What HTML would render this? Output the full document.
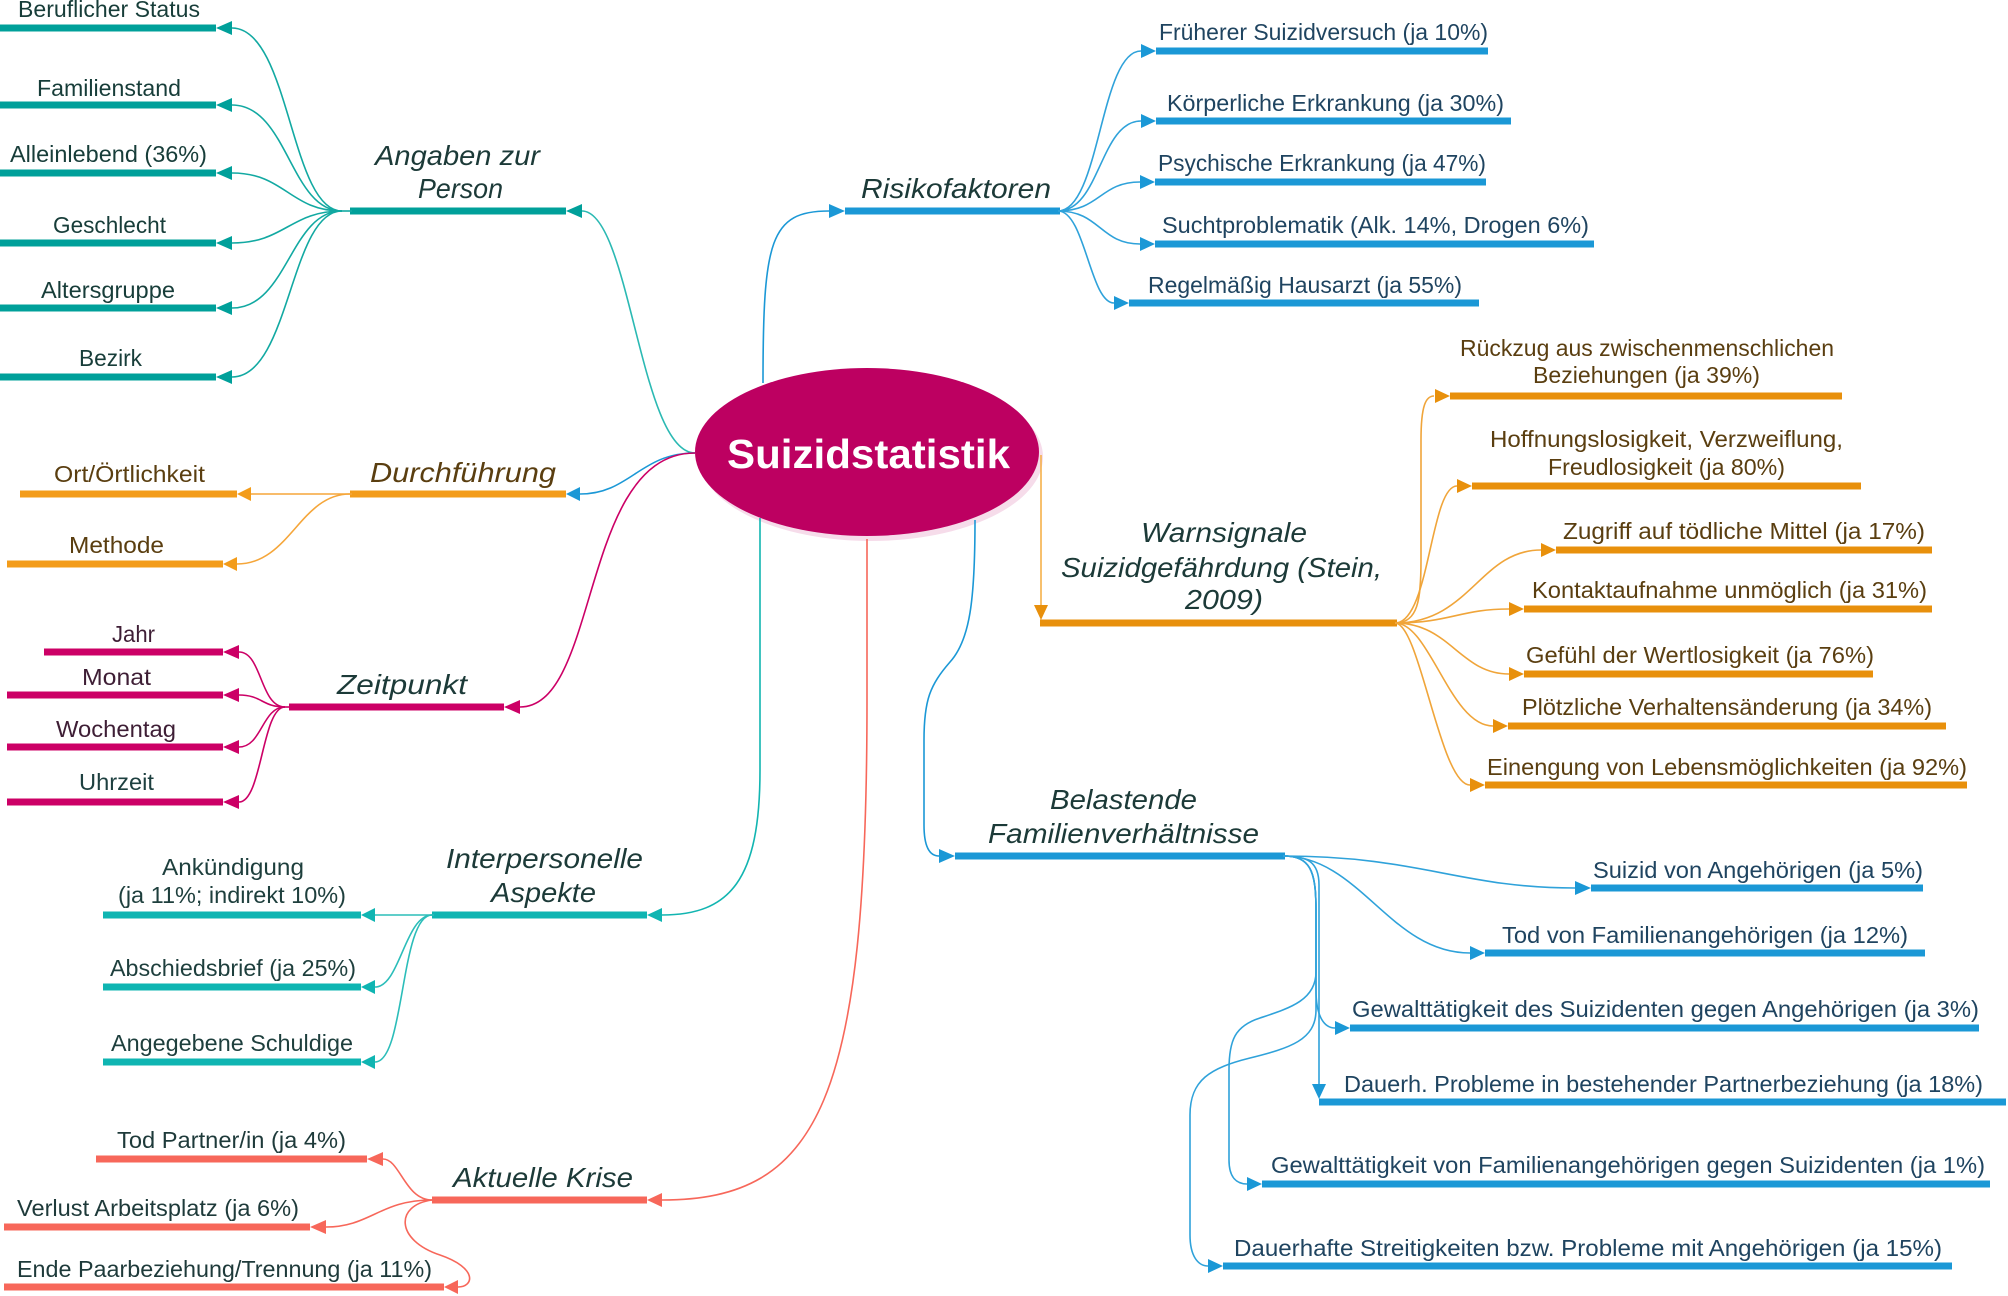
<!DOCTYPE html>
<html><head><meta charset="utf-8"><style>
html,body{margin:0;padding:0;background:#fff;}
svg{display:block;}
text{font-family:"Liberation Sans",sans-serif;}
.c{font-size:23px;}
.m{font-size:28px;font-style:italic;}
.ln{fill:none;stroke-width:1.6;}
</style></head><body>
<svg width="2008" height="1296" viewBox="0 0 2008 1296" xmlns="http://www.w3.org/2000/svg">
<rect width="2008" height="1296" fill="#fff"/>

<!-- ===== Central ellipse ===== -->
<ellipse cx="871" cy="457" rx="172" ry="84" fill="#F6DCEA"/>
<ellipse cx="867" cy="452" rx="172" ry="84" fill="#BD0061"/>

<!-- ===== Center connectors ===== -->
<path class="ln" stroke="#2BB9B3" d="M695,453 C640,453 630,211 582,211"/>
<path class="ln" stroke="#1B98D6" d="M695,453 C640,453 630,494 580,494"/>
<path class="ln" stroke="#CC0066" d="M695,453 C580,453 600,707 520,707"/>
<path class="ln" stroke="#1B98D6" d="M763,383 C763,240 770,211 829,211"/>
<path class="ln" stroke="#12B5B1" d="M760,518 L760,770 C760,880 730,915 662,915"/>
<path class="ln" stroke="#F7675A" d="M867,539 L867,700 C867,1100 820,1200 662,1200"/>
<path class="ln" stroke="#1B98D6" d="M975,520 C975,600 970,640 950,662 C930,685 924,700 924,740 L924,825 C924,848 930,856 939,856"/>
<path class="ln" stroke="#F5B04A" d="M1041,455 L1041,606"/>

<text x="727" y="468" textLength="283" lengthAdjust="spacingAndGlyphs" style="font-size:41px;font-weight:bold" fill="#fff">Suizidstatistik</text>

<!-- ===== Angaben zur Person ===== -->
<g stroke="#00A09A">
<line x1="350" y1="211" x2="566" y2="211" stroke-width="7"/>
<line x1="0" y1="28" x2="216" y2="28" stroke-width="7"/>
<line x1="0" y1="105" x2="216" y2="105" stroke-width="7"/>
<line x1="0" y1="173" x2="216" y2="173" stroke-width="7"/>
<line x1="0" y1="243" x2="216" y2="243" stroke-width="7"/>
<line x1="0" y1="308" x2="216" y2="308" stroke-width="7"/>
<line x1="0" y1="377" x2="216" y2="377" stroke-width="7"/>
</g>
<g class="ln" stroke="#12A9A2">
<path d="M352,211 L340,211"/>
<path d="M342,211 C290,211 290,28 232,28"/>
<path d="M342,211 C290,211 288,105 232,105"/>
<path d="M342,211 C290,211 285,173 232,173"/>
<path d="M342,211 C290,211 285,243 232,243"/>
<path d="M342,211 C290,211 288,308 232,308"/>
<path d="M342,211 C290,211 290,377 232,377"/>
</g>
<g fill="#00A09A">
<polygon points="566,211 582,204 582,218"/>
<polygon points="216,28 232,21 232,35"/>
<polygon points="216,105 232,98 232,112"/>
<polygon points="216,173 232,166 232,180"/>
<polygon points="216,243 232,236 232,250"/>
<polygon points="216,308 232,301 232,315"/>
<polygon points="216,377 232,370 232,384"/>
</g>
<g class="c" fill="#173D39">
<text x="18" y="17" textLength="182" lengthAdjust="spacingAndGlyphs">Beruflicher Status</text>
<text x="37" y="96" textLength="144" lengthAdjust="spacingAndGlyphs">Familienstand</text>
<text x="10" y="162" textLength="197" lengthAdjust="spacingAndGlyphs">Alleinlebend (36%)</text>
<text x="53" y="233" textLength="113" lengthAdjust="spacingAndGlyphs">Geschlecht</text>
<text x="41" y="298" textLength="134" lengthAdjust="spacingAndGlyphs">Altersgruppe</text>
<text x="79" y="366" textLength="63" lengthAdjust="spacingAndGlyphs">Bezirk</text>
</g>
<g class="m" fill="#1C3A38">
<text x="375" y="165" textLength="165" lengthAdjust="spacingAndGlyphs">Angaben zur</text>
<text x="418" y="198" textLength="85" lengthAdjust="spacingAndGlyphs">Person</text>
</g>

<!-- ===== Durchführung ===== -->
<g stroke="#F39C1A" stroke-width="7">
<line x1="350" y1="494" x2="566" y2="494"/>
<line x1="20" y1="494" x2="237" y2="494"/>
<line x1="7" y1="564" x2="223" y2="564"/>
</g>
<g class="ln" stroke="#F5A63A">
<path d="M352,494 L251,494"/>
<path d="M350,494 C300,494 290,564 237,564"/>
</g>
<polygon points="566,494 580,487 580,501" fill="#1B98D6"/>
<g fill="#F39C1A">
<polygon points="237,494 251,487 251,501"/>
<polygon points="223,564 237,557 237,571"/>
</g>
<text class="m" x="370" y="482" textLength="186" lengthAdjust="spacingAndGlyphs" fill="#5A3E10">Durchführung</text>
<g class="c" fill="#5A3E10">
<text x="54" y="482" textLength="151" lengthAdjust="spacingAndGlyphs">Ort/Örtlichkeit</text>
<text x="69" y="553" textLength="95" lengthAdjust="spacingAndGlyphs">Methode</text>
</g>

<!-- ===== Zeitpunkt ===== -->
<g stroke="#CC0066" stroke-width="7">
<line x1="289" y1="707" x2="504" y2="707"/>
<line x1="44" y1="652" x2="223" y2="652"/>
<line x1="7" y1="695" x2="223" y2="695"/>
<line x1="7" y1="747" x2="223" y2="747"/>
<line x1="7" y1="802" x2="223" y2="802"/>
</g>
<g class="ln" stroke="#CC0066">
<path d="M290,707 L283,707"/>
<path d="M285,707 C260,707 262,652 239,652"/>
<path d="M285,707 C262,707 262,695 239,695"/>
<path d="M285,707 C262,707 262,747 239,747"/>
<path d="M285,707 C262,707 262,802 239,802"/>
</g>
<g fill="#CC0066">
<polygon points="504,707 520,700 520,714"/>
<polygon points="223,652 239,645 239,659"/>
<polygon points="223,695 239,688 239,702"/>
<polygon points="223,747 239,740 239,754"/>
<polygon points="223,802 239,795 239,809"/>
</g>
<text class="m" x="337" y="694" textLength="130" lengthAdjust="spacingAndGlyphs" fill="#1C3A38">Zeitpunkt</text>
<g class="c" fill="#3E1E35">
<text x="112" y="642" textLength="43" lengthAdjust="spacingAndGlyphs">Jahr</text>
<text x="82" y="685" textLength="69" lengthAdjust="spacingAndGlyphs">Monat</text>
<text x="56" y="737" textLength="120" lengthAdjust="spacingAndGlyphs">Wochentag</text>
<text x="79" y="790" textLength="75" lengthAdjust="spacingAndGlyphs" fill="#1E4040">Uhrzeit</text>
</g>

<!-- ===== Interpersonelle Aspekte ===== -->
<g stroke="#0FB5B2" stroke-width="7">
<line x1="432" y1="915" x2="647" y2="915"/>
<line x1="103" y1="915" x2="361" y2="915"/>
<line x1="103" y1="987" x2="361" y2="987"/>
<line x1="103" y1="1062" x2="361" y2="1062"/>
</g>
<g class="ln" stroke="#2BBDB9">
<path d="M434,915 L375,915"/>
<path d="M432,915 C405,915 400,987 375,987"/>
<path d="M432,915 C400,915 405,1062 375,1062"/>
</g>
<g fill="#0FB5B2">
<polygon points="647,915 662,908 662,922"/>
<polygon points="361,915 375,908 375,922"/>
<polygon points="361,987 375,980 375,994"/>
<polygon points="361,1062 375,1055 375,1069"/>
</g>
<g class="m" fill="#1C3A38">
<text x="446" y="868" textLength="197" lengthAdjust="spacingAndGlyphs">Interpersonelle</text>
<text x="491" y="902" textLength="105" lengthAdjust="spacingAndGlyphs">Aspekte</text>
</g>
<g class="c" fill="#1E3F3D">
<text x="162" y="875" textLength="142" lengthAdjust="spacingAndGlyphs">Ankündigung</text>
<text x="118" y="903" textLength="228" lengthAdjust="spacingAndGlyphs">(ja 11%; indirekt 10%)</text>
<text x="110" y="976" textLength="246" lengthAdjust="spacingAndGlyphs">Abschiedsbrief (ja 25%)</text>
<text x="111" y="1051" textLength="242" lengthAdjust="spacingAndGlyphs">Angegebene Schuldige</text>
</g>

<!-- ===== Aktuelle Krise ===== -->
<g stroke="#F7675A" stroke-width="7">
<line x1="432" y1="1200" x2="647" y2="1200"/>
<line x1="96" y1="1159" x2="367" y2="1159"/>
<line x1="4" y1="1227" x2="310" y2="1227"/>
<line x1="4" y1="1287" x2="444" y2="1287"/>
</g>
<g class="ln" stroke="#F7675A">
<path d="M432,1200 C405,1200 400,1159 383,1159"/>
<path d="M432,1200 C380,1200 370,1227 326,1227"/>
<path d="M432,1200 C395,1205 395,1240 440,1255 C478,1268 474,1287 458,1287"/>
</g>
<g fill="#F7675A">
<polygon points="647,1200 662,1193 662,1207"/>
<polygon points="367,1159 383,1152 383,1166"/>
<polygon points="310,1227 326,1220 326,1234"/>
<polygon points="444,1287 458,1280 458,1294"/>
</g>
<text class="m" x="453" y="1187" textLength="180" lengthAdjust="spacingAndGlyphs" fill="#1C3A38">Aktuelle Krise</text>
<g class="c" fill="#1E3A3A">
<text x="117" y="1148" textLength="229" lengthAdjust="spacingAndGlyphs">Tod Partner/in (ja 4%)</text>
<text x="17" y="1216" textLength="282" lengthAdjust="spacingAndGlyphs">Verlust Arbeitsplatz (ja 6%)</text>
<text x="17" y="1277" textLength="415" lengthAdjust="spacingAndGlyphs">Ende Paarbeziehung/Trennung (ja 11%)</text>
</g>

<!-- ===== Risikofaktoren ===== -->
<g stroke="#1B98D6" stroke-width="7">
<line x1="845" y1="211" x2="1060" y2="211"/>
<line x1="1156" y1="51" x2="1488" y2="51"/>
<line x1="1156" y1="121" x2="1511" y2="121"/>
<line x1="1155" y1="182" x2="1486" y2="182"/>
<line x1="1155" y1="244" x2="1594" y2="244"/>
<line x1="1129" y1="303" x2="1479" y2="303"/>
</g>
<g class="ln" stroke="#2FA2DA">
<path d="M1058,211 C1100,211 1100,51 1141,51"/>
<path d="M1058,211 C1100,211 1100,121 1141,121"/>
<path d="M1058,211 C1100,211 1100,182 1140,182"/>
<path d="M1058,211 C1100,211 1100,244 1140,244"/>
<path d="M1058,211 C1085,211 1090,303 1114,303"/>
</g>
<g fill="#1B98D6">
<polygon points="845,211 829,204 829,218"/>
<polygon points="1156,51 1141,44 1141,58"/>
<polygon points="1156,121 1141,114 1141,128"/>
<polygon points="1155,182 1140,175 1140,189"/>
<polygon points="1155,244 1140,237 1140,251"/>
<polygon points="1129,303 1114,296 1114,310"/>
</g>
<text class="m" x="861" y="198" textLength="190" lengthAdjust="spacingAndGlyphs" fill="#1C3A38">Risikofaktoren</text>
<g class="c" fill="#1F4460">
<text x="1159" y="40" textLength="329" lengthAdjust="spacingAndGlyphs">Früherer Suizidversuch (ja 10%)</text>
<text x="1167" y="111" textLength="337" lengthAdjust="spacingAndGlyphs">Körperliche Erkrankung (ja 30%)</text>
<text x="1158" y="171" textLength="328" lengthAdjust="spacingAndGlyphs">Psychische Erkrankung (ja 47%)</text>
<text x="1162" y="233" textLength="427" lengthAdjust="spacingAndGlyphs">Suchtproblematik (Alk. 14%, Drogen 6%)</text>
<text x="1148" y="293" textLength="314" lengthAdjust="spacingAndGlyphs">Regelmäßig Hausarzt (ja 55%)</text>
</g>

<!-- ===== Warnsignale ===== -->
<g stroke="#E8900C" stroke-width="7">
<line x1="1040" y1="623" x2="1397" y2="623"/>
<line x1="1450" y1="396" x2="1842" y2="396"/>
<line x1="1472" y1="486" x2="1861" y2="486"/>
<line x1="1556" y1="550" x2="1932" y2="550"/>
<line x1="1524" y1="609" x2="1932" y2="609"/>
<line x1="1524" y1="674" x2="1873" y2="674"/>
<line x1="1508" y1="726" x2="1946" y2="726"/>
<line x1="1485" y1="785" x2="1967" y2="785"/>
</g>
<g class="ln" stroke="#F0A53A">
<path d="M1395,623 C1418,623 1421,600 1421,560 L1421,440 C1421,405 1426,396 1434,396"/>
<path d="M1395,623 C1430,623 1430,486 1457,486"/>
<path d="M1395,623 C1470,623 1480,550 1541,550"/>
<path d="M1395,623 C1450,623 1460,609 1509,609"/>
<path d="M1395,623 C1450,623 1460,674 1509,674"/>
<path d="M1395,623 C1430,623 1450,726 1493,726"/>
<path d="M1395,623 C1420,623 1440,785 1470,785"/>
</g>
<g fill="#E8900C">
<polygon points="1041,620 1034,605 1048,605"/>
<polygon points="1450,396 1435,389 1435,403"/>
<polygon points="1472,486 1457,479 1457,493"/>
<polygon points="1556,550 1541,543 1541,557"/>
<polygon points="1524,609 1509,602 1509,616"/>
<polygon points="1524,674 1509,667 1509,681"/>
<polygon points="1508,726 1493,719 1493,733"/>
<polygon points="1485,785 1470,778 1470,792"/>
</g>
<g class="m" fill="#1C3A38">
<text x="1141" y="542" textLength="166" lengthAdjust="spacingAndGlyphs">Warnsignale</text>
<text x="1061" y="577" textLength="321" lengthAdjust="spacingAndGlyphs">Suizidgefährdung (Stein,</text>
<text x="1185" y="609" textLength="78" lengthAdjust="spacingAndGlyphs">2009)</text>
</g>
<g class="c" fill="#5A3E10">
<text x="1460" y="356" textLength="374" lengthAdjust="spacingAndGlyphs">Rückzug aus zwischenmenschlichen</text>
<text x="1533" y="383" textLength="227" lengthAdjust="spacingAndGlyphs">Beziehungen (ja 39%)</text>
<text x="1490" y="447" textLength="353" lengthAdjust="spacingAndGlyphs">Hoffnungslosigkeit, Verzweiflung,</text>
<text x="1548" y="475" textLength="237" lengthAdjust="spacingAndGlyphs">Freudlosigkeit (ja 80%)</text>
<text x="1563" y="539" textLength="362" lengthAdjust="spacingAndGlyphs">Zugriff auf tödliche Mittel (ja 17%)</text>
<text x="1532" y="598" textLength="395" lengthAdjust="spacingAndGlyphs">Kontaktaufnahme unmöglich (ja 31%)</text>
<text x="1526" y="663" textLength="348" lengthAdjust="spacingAndGlyphs">Gefühl der Wertlosigkeit (ja 76%)</text>
<text x="1522" y="715" textLength="410" lengthAdjust="spacingAndGlyphs">Plötzliche Verhaltensänderung (ja 34%)</text>
<text x="1487" y="775" textLength="480" lengthAdjust="spacingAndGlyphs">Einengung von Lebensmöglichkeiten (ja 92%)</text>
</g>

<!-- ===== Belastende Familienverhältnisse ===== -->
<g stroke="#1B98D6" stroke-width="7">
<line x1="955" y1="856" x2="1285" y2="856"/>
<line x1="1591" y1="888" x2="1923" y2="888"/>
<line x1="1485" y1="953" x2="1925" y2="953"/>
<line x1="1350" y1="1028" x2="1979" y2="1028"/>
<line x1="1319" y1="1102" x2="2006" y2="1102"/>
<line x1="1262" y1="1184" x2="1990" y2="1184"/>
<line x1="1223" y1="1266" x2="1952" y2="1266"/>
</g>
<g class="ln" stroke="#2FA2DA">
<path d="M1283,856 C1420,856 1460,888 1575,888"/>
<path d="M1283,856 C1360,856 1390,953 1470,953"/>
<path d="M1283,856 C1310,856 1316,870 1316,910 L1316,990 C1316,1018 1325,1028 1335,1028"/>
<path d="M1283,856 C1308,856 1319,862 1319,885 L1319,1084"/>
<path d="M1283,856 C1310,856 1316,870 1316,910 L1316,972 C1316,1000 1290,1008 1260,1018 C1235,1026 1229,1040 1229,1070 L1229,1160 C1229,1178 1237,1184 1247,1184"/>
<path d="M1283,856 C1310,856 1316,870 1316,910 L1316,1010 C1316,1040 1290,1048 1250,1058 C1210,1068 1190,1080 1190,1115 L1190,1235 C1190,1256 1198,1266 1208,1266"/>
</g>
<g fill="#1B98D6">
<polygon points="955,856 939,849 939,863"/>
<polygon points="1591,888 1575,881 1575,895"/>
<polygon points="1485,953 1470,946 1470,960"/>
<polygon points="1350,1028 1335,1021 1335,1035"/>
<polygon points="1319,1099 1312,1084 1326,1084"/>
<polygon points="1262,1184 1247,1177 1247,1191"/>
<polygon points="1223,1266 1208,1259 1208,1273"/>
</g>
<g class="m" fill="#1C3A38">
<text x="1050" y="809" textLength="147" lengthAdjust="spacingAndGlyphs">Belastende</text>
<text x="988" y="843" textLength="271" lengthAdjust="spacingAndGlyphs">Familienverhältnisse</text>
</g>
<g class="c" fill="#1F4460">
<text x="1593" y="878" textLength="330" lengthAdjust="spacingAndGlyphs">Suizid von Angehörigen (ja 5%)</text>
<text x="1502" y="943" textLength="406" lengthAdjust="spacingAndGlyphs">Tod von Familienangehörigen (ja 12%)</text>
<text x="1352" y="1017" textLength="627" lengthAdjust="spacingAndGlyphs">Gewalttätigkeit des Suizidenten gegen Angehörigen (ja 3%)</text>
<text x="1344" y="1092" textLength="639" lengthAdjust="spacingAndGlyphs">Dauerh. Probleme in bestehender Partnerbeziehung (ja 18%)</text>
<text x="1271" y="1173" textLength="714" lengthAdjust="spacingAndGlyphs">Gewalttätigkeit von Familienangehörigen gegen Suizidenten (ja 1%)</text>
<text x="1234" y="1256" textLength="708" lengthAdjust="spacingAndGlyphs">Dauerhafte Streitigkeiten bzw. Probleme mit  Angehörigen (ja 15%)</text>
</g>
</svg>
</body></html>
